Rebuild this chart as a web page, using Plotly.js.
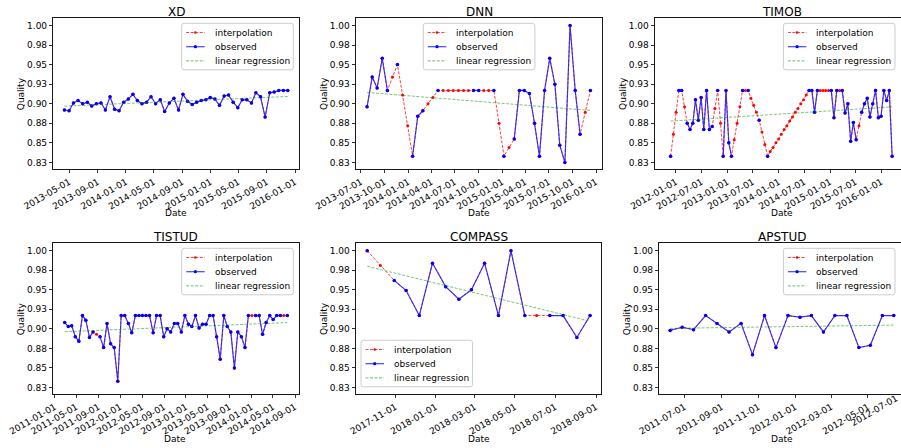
<!DOCTYPE html>
<html><head><meta charset="utf-8">
<script src="https://cdn.plot.ly/plotly-3.0.1.min.js"></script>
<style>html,body{margin:0;padding:0;background:#fff}#chart{width:901px;height:448px}</style>
</head><body><div id="chart"></div>
<script>
const yTickVals = [0.825,0.85,0.875,0.9,0.925,0.95,0.975,1.0];
const yTickText = ['0.83','0.85','0.88','0.90','0.93','0.95','0.98','1.00'];
const legendNames = ['interpolation','observed','linear regression'];

// ---- XD ----
const xdDates = ['2013-04-10','2013-04-30','2013-05-19','2013-06-08','2013-06-28','2013-07-18','2013-08-06','2013-08-26','2013-09-15','2013-10-04','2013-10-24','2013-11-13','2013-12-02','2013-12-22','2014-01-11','2014-01-31','2014-02-19','2014-03-11','2014-03-31','2014-04-19','2014-05-09','2014-05-29','2014-06-17','2014-07-07','2014-07-27','2014-08-16','2014-09-04','2014-09-24','2014-10-14','2014-11-02','2014-11-22','2014-12-12','2014-12-31','2015-01-20','2015-02-09','2015-03-01','2015-03-20','2015-04-09','2015-04-29','2015-05-18','2015-06-07','2015-06-27','2015-07-16','2015-08-05','2015-08-25','2015-09-14','2015-10-03','2015-10-23','2015-11-12','2015-12-01'];
const xdQuality = [0.892,0.891,0.901,0.904,0.900,0.902,0.897,0.900,0.901,0.892,0.909,0.893,0.891,0.902,0.906,0.912,0.904,0.900,0.902,0.909,0.900,0.905,0.890,0.901,0.907,0.892,0.912,0.903,0.899,0.902,0.904,0.905,0.908,0.906,0.898,0.910,0.911,0.902,0.895,0.905,0.905,0.901,0.914,0.909,0.883,0.914,0.915,0.917,0.917,0.917];
const xdInterpolatedIdx = [];
const xdTicks = ['2013-05-01','2013-09-01','2014-01-01','2014-05-01','2014-09-01','2015-01-01','2015-05-01','2015-09-01','2016-01-01'];

// ---- DNN ----
const dnnDates = ['2013-07-25','2013-08-14','2013-09-02','2013-09-22','2013-10-12','2013-11-01','2013-11-20','2013-12-10','2013-12-30','2014-01-18','2014-02-07','2014-02-27','2014-03-19','2014-04-07','2014-04-27','2014-05-17','2014-06-06','2014-06-25','2014-07-15','2014-08-04','2014-08-23','2014-09-12','2014-10-02','2014-10-22','2014-11-10','2014-11-30','2014-12-20','2015-01-08','2015-01-28','2015-02-17','2015-03-09','2015-03-28','2015-04-17','2015-05-07','2015-05-26','2015-06-15','2015-07-05','2015-07-25','2015-08-13','2015-09-02','2015-09-22','2015-10-12','2015-10-31','2015-11-20','2015-12-10'];
const dnnQuality = [0.896,0.934,0.920,0.958,0.917,0.934,0.950,0.911,0.872,0.833,0.884,0.891,0.900,0.908,0.917,0.917,0.917,0.917,0.917,0.917,0.917,0.917,0.917,0.917,0.917,0.917,0.875,0.833,0.844,0.855,0.917,0.917,0.913,0.875,0.833,0.917,0.958,0.925,0.847,0.825,1.000,0.917,0.861,0.889,0.917];
const dnnInterpolatedIdx = [5,7,8,12,13,15,16,17,18,19,20,23,24,26,28,43];
const dnnTicks = ['2013-07-01','2013-10-01','2014-01-01','2014-04-01','2014-07-01','2014-10-01','2015-01-01','2015-04-01','2015-07-01','2015-10-01','2016-01-01'];

// ---- TIMOB ----
const timobDates = ['2011-11-24','2011-12-14','2012-01-02','2012-01-22','2012-02-11','2012-03-02','2012-03-21','2012-04-10','2012-04-30','2012-05-19','2012-06-08','2012-06-28','2012-07-17','2012-08-06','2012-08-26','2012-09-15','2012-10-04','2012-10-24','2012-11-13','2012-12-02','2012-12-22','2013-01-11','2013-01-30','2013-02-19','2013-03-11','2013-03-31','2013-04-19','2013-05-09','2013-05-29','2013-06-17','2013-07-07','2013-07-27','2013-08-15','2013-09-04','2013-09-24','2013-10-14','2013-11-02','2013-11-22','2013-12-12','2013-12-31','2014-01-20','2014-02-09','2014-02-28','2014-03-20','2014-04-09','2014-04-29','2014-05-18','2014-06-07','2014-06-27','2014-07-16','2014-08-05','2014-08-25','2014-09-13','2014-10-03','2014-10-23','2014-11-12','2014-12-01','2014-12-21','2015-01-10','2015-01-29','2015-02-18','2015-03-10','2015-03-29','2015-04-18','2015-05-08','2015-05-28','2015-06-16','2015-07-06','2015-07-26','2015-08-14','2015-09-03','2015-09-23','2015-10-12','2015-11-01','2015-11-21','2015-12-11','2015-12-30','2016-01-19','2016-02-08','2016-02-27','2016-03-18'];
const timobQuality = [0.833,0.861,0.889,0.917,0.917,0.896,0.875,0.867,0.875,0.905,0.879,0.908,0.867,0.917,0.867,0.871,0.894,0.917,0.875,0.833,0.917,0.850,0.833,0.854,0.875,0.896,0.917,0.917,0.917,0.907,0.898,0.889,0.879,0.864,0.848,0.833,0.839,0.844,0.850,0.855,0.861,0.867,0.872,0.878,0.883,0.889,0.894,0.900,0.905,0.911,0.917,0.917,0.889,0.917,0.917,0.917,0.917,0.917,0.917,0.882,0.917,0.917,0.917,0.888,0.900,0.852,0.876,0.854,0.872,0.889,0.900,0.907,0.883,0.900,0.917,0.882,0.884,0.917,0.904,0.917,0.833];
const timobInterpolatedIdx = [1,2,5,16,18,23,24,25,27,29,30,31,33,34,36,37,38,39,40,41,42,43,44,45,46,47,48,49,54,55,56,57,61,68];
const timobTicks = ['2012-01-01','2012-07-01','2013-01-01','2013-07-01','2014-01-01','2014-07-01','2015-01-01','2015-07-01','2016-01-01'];

// ---- TISTUD ----
const tistudDates = ['2011-02-25','2011-03-17','2011-04-05','2011-04-25','2011-05-15','2011-06-04','2011-06-23','2011-07-13','2011-08-02','2011-08-21','2011-09-10','2011-09-30','2011-10-19','2011-11-08','2011-11-28','2011-12-18','2012-01-06','2012-01-26','2012-02-15','2012-03-05','2012-03-25','2012-04-14','2012-05-03','2012-05-23','2012-06-12','2012-07-02','2012-07-21','2012-08-10','2012-08-30','2012-09-18','2012-10-08','2012-10-28','2012-11-16','2012-12-06','2012-12-26','2013-01-15','2013-02-03','2013-02-23','2013-03-15','2013-04-03','2013-04-23','2013-05-13','2013-06-01','2013-06-21','2013-07-11','2013-07-31','2013-08-19','2013-09-08','2013-09-28','2013-10-17','2013-11-06','2013-11-26','2013-12-15','2014-01-04','2014-01-24','2014-02-13','2014-03-04','2014-03-24','2014-04-13','2014-05-02','2014-05-22','2014-06-11','2014-06-30','2014-07-20'];
const tistudQuality = [0.908,0.903,0.904,0.890,0.884,0.917,0.911,0.889,0.896,0.893,0.890,0.876,0.907,0.881,0.876,0.833,0.917,0.917,0.907,0.895,0.917,0.917,0.917,0.917,0.917,0.895,0.917,0.917,0.890,0.900,0.896,0.907,0.907,0.896,0.917,0.906,0.903,0.917,0.901,0.906,0.906,0.917,0.917,0.890,0.861,0.917,0.903,0.896,0.850,0.896,0.890,0.876,0.917,0.917,0.917,0.917,0.893,0.908,0.917,0.912,0.917,0.917,0.917,0.917];
const tistudInterpolatedIdx = [9,53,62];
const tistudTicks = ['2011-01-01','2011-05-01','2011-09-01','2012-01-01','2012-05-01','2012-09-01','2013-01-01','2013-05-01','2013-09-01','2014-01-01','2014-05-01','2014-09-01'];

// ---- COMPASS ----
const compassDates = ['2017-09-19','2017-10-09','2017-10-30','2017-11-17','2017-12-07','2017-12-27','2018-01-16','2018-02-05','2018-02-24','2018-03-16','2018-04-06','2018-04-25','2018-05-16','2018-06-03','2018-06-23','2018-07-13','2018-08-03','2018-08-23'];
const compassQuality = [1.000,0.981,0.962,0.949,0.917,0.984,0.954,0.938,0.950,0.984,0.917,1.000,0.917,0.917,0.917,0.917,0.889,0.917];
const compassInterpolatedIdx = [1,13];
const compassTicks = ['2017-11-01','2018-01-01','2018-03-01','2018-05-01','2018-07-01','2018-09-01'];

// ---- APSTUD ----
const apstudDates = ['2011-06-07','2011-06-27','2011-07-16','2011-08-05','2011-08-24','2011-09-13','2011-10-03','2011-10-22','2011-11-11','2011-11-30','2011-12-20','2012-01-09','2012-01-28','2012-02-17','2012-03-07','2012-03-27','2012-04-16','2012-05-05','2012-05-25','2012-06-13'];
const apstudQuality = [0.898,0.902,0.899,0.917,0.907,0.896,0.907,0.867,0.917,0.876,0.917,0.915,0.917,0.896,0.917,0.917,0.876,0.879,0.917,0.917];
const apstudInterpolatedIdx = [];
const apstudTicks = ['2011-07-01','2011-09-01','2011-11-01','2012-01-01','2012-03-01','2012-05-01','2012-07-01'];

const W = 901, H = 448;
const px = x => x / W, py = y => 1 - y / H;
const FONT = 'DejaVu Sans';
const RED = 'rgba(255,0,0,0.75)', BLUE = 'rgba(20,20,255,0.8)', GREEN = 'rgba(0,150,0,0.6)';
const DASH = '3px,1.5px';

const panels = [
  {name:'XD', dates:xdDates, q:xdQuality, interp:xdInterpolatedIdx, ticks:xdTicks, range:['2013-02-21','2016-01-17'], xd:[53.3,298.7], yd:[18,169], cx:176, leg:[181.7,23.3]},
  {name:'DNN', dates:dnnDates, q:dnnQuality, interp:dnnInterpolatedIdx, ticks:dnnTicks, range:['2013-06-12','2016-01-23'], xd:[356,601.7], yd:[18,169], cx:479, leg:[423.3,23.3]},
  {name:'TIMOB', dates:timobDates, q:timobQuality, interp:timobInterpolatedIdx, ticks:timobTicks, range:['2011-08-05','2016-05-20'], xd:[655,901], yd:[18,169], cx:781.8, leg:[783.4,23.3]},
  {name:'TISTUD', dates:tistudDates, q:tistudQuality, interp:tistudInterpolatedIdx, ticks:tistudTicks, range:['2010-12-23','2014-09-22'], xd:[53.2,298.8], yd:[243.3,394], cx:175, leg:[181.7,248.3]},
  {name:'COMPASS', dates:compassDates, q:compassQuality, interp:compassInterpolatedIdx, ticks:compassTicks, range:['2017-09-02','2018-09-09'], xd:[356,601.3], yd:[243.3,394], cx:479, leg:[361,340.3]},
  {name:'APSTUD', dates:apstudDates, q:apstudQuality, interp:apstudInterpolatedIdx, ticks:apstudTicks.slice(0,-1), range:['2011-05-20','2012-06-25'], xd:[659.3,901], yd:[243.3,394], cx:782, leg:[783.4,248.3]}
];

function linreg(dates, vals) {
  const xs = dates.map(d => new Date(d + 'T00:00:00Z').getTime());
  const n = xs.length;
  const mx = xs.reduce((a,b)=>a+b,0)/n, my = vals.reduce((a,b)=>a+b,0)/n;
  let sxy = 0, sxx = 0;
  for (let i=0;i<n;i++){ sxy += (xs[i]-mx)*(vals[i]-my); sxx += (xs[i]-mx)*(xs[i]-mx); }
  const b = sxy/sxx, a = my - b*mx;
  return [a + b*xs[0], a + b*xs[n-1]];
}

const traces = [];
const shapes = [];
const annotations = [];
const layout = {
  width: W, height: H, margin:{l:0,r:0,t:0,b:0},
  paper_bgcolor:'#fff', plot_bgcolor:'#fff',
  font:{family:FONT, size:9, color:'#000'},
  showlegend:false, shapes, annotations
};

function roundRect(L, T, w, h, r) {
  const X = v => px(v).toFixed(5), Y = v => py(v).toFixed(5);
  const R = L + w, B = T + h;
  return `M${X(L+r)},${Y(T)} L${X(R-r)},${Y(T)} Q${X(R)},${Y(T)} ${X(R)},${Y(T+r)} L${X(R)},${Y(B-r)} Q${X(R)},${Y(B)} ${X(R-r)},${Y(B)} L${X(L+r)},${Y(B)} Q${X(L)},${Y(B)} ${X(L)},${Y(B-r)} L${X(L)},${Y(T+r)} Q${X(L)},${Y(T)} ${X(L+r)},${Y(T)} Z`;
}

function addLegend(L, T) {
  const w = 111.6, h = 46.5;
  shapes.push({type:'path', xref:'paper', yref:'paper', path:roundRect(L, T, w, h, 2.5),
    fillcolor:'rgba(255,255,255,0.8)', line:{color:'#cccccc', width:1}, layer:'above'});
  const rows = [
    {color:RED, dash:DASH, mk:'red', r:1.3},
    {color:BLUE, dash:'solid', mk:'blue', r:1.6},
    {color:GREEN, dash:DASH, mk:null}
  ];
  rows.forEach((row, j) => {
    const cy = T + 9.2 + j * 14.2;
    shapes.push({type:'line', xref:'paper', yref:'paper', x0:px(L+4.5), x1:px(L+23), y0:py(cy), y1:py(cy),
      line:{color:row.color, width: j===1 ? 1.2 : 1, dash:row.dash}, layer:'above'});
    if (row.mk) {
      shapes.push({type:'circle', xref:'paper', yref:'paper', x0:px(L+13.7-row.r), x1:px(L+13.7+row.r),
        y0:py(cy+row.r), y1:py(cy-row.r), fillcolor:row.mk, line:{width:0}, layer:'above'});
    }
    annotations.push({text:legendNames[j], xref:'paper', yref:'paper', x:px(L+31), y:py(cy), xanchor:'left', yanchor:'middle',
      showarrow:false, font:{family:FONT, size:9, color:'#000'}});
  });
}

panels.forEach((p, k) => {
  const s = k === 0 ? '' : String(k+1);
  const xa = 'x'+s, ya = 'y'+s;
  const obs = p.q.map((v,i) => p.interp.includes(i) ? null : v);
  traces.push({type:'scatter', mode:'lines+markers', name:legendNames[0], x:p.dates, y:p.q, xaxis:xa, yaxis:ya,
    line:{color:RED, width:1, dash:DASH}, marker:{color:'red', size:3}, hoverinfo:'skip'});
  traces.push({type:'scatter', mode:'lines+markers', name:legendNames[1], x:p.dates, y:obs, xaxis:xa, yaxis:ya, connectgaps:false,
    line:{color:BLUE, width:1.2}, marker:{color:'blue', size:3.5}, hoverinfo:'skip'});
  const r = linreg(p.dates, p.q);
  traces.push({type:'scatter', mode:'lines', name:legendNames[2], x:[p.dates[0], p.dates[p.dates.length-1]], y:r, xaxis:xa, yaxis:ya,
    line:{color:GREEN, width:0.9, dash:DASH}, hoverinfo:'skip'});

  layout['xaxis'+s] = {domain:[px(p.xd[0]), px(p.xd[1])], anchor:ya, type:'date', range:p.range,
    tickvals:p.ticks, ticktext:p.ticks, tickangle:-30, ticks:'outside', ticklen:3.5, tickwidth:0.8, tickcolor:'#000',
    showline:true, mirror:true, linecolor:'#000', linewidth:0.9, showgrid:false, zeroline:false,
    tickfont:{family:FONT, size:9, color:'#000'}};
  layout['yaxis'+s] = {domain:[py(p.yd[1]), py(p.yd[0])], anchor:xa, range:[0.8166,1.0095],
    tickvals:yTickVals, ticktext:yTickText, ticks:'outside', ticklen:3.5, tickwidth:0.8, tickcolor:'#000',
    showline:true, mirror:true, linecolor:'#000', linewidth:0.9, showgrid:false, zeroline:false,
    tickfont:{family:FONT, size:9, color:'#000'}};

  addLegend(p.leg[0], p.leg[1]);

  const top = p.yd[0];
  annotations.push({text:p.name, xref:'paper', yref:'paper', x:px(p.cx), y:py(top - 6.5), xanchor:'center', yanchor:'middle', showarrow:false, font:{family:FONT, size:12, color:'#000'}});
  annotations.push({text:'Date', xref:'paper', yref:'paper', x:px(p.cx), y:py(top === 18 ? 213.3 : 439.3), xanchor:'center', yanchor:'middle', showarrow:false, font:{family:FONT, size:9, color:'#000'}});
  annotations.push({text:'Quality', xref:'paper', yref:'paper', x:px(p.xd[0] - 32.6), y:py((p.yd[0]+p.yd[1])/2), xanchor:'center', yanchor:'middle', textangle:-90, showarrow:false, font:{family:FONT, size:9, color:'#000'}});
});

// last APSTUD tick (2012-07-01) falls on the figure's right edge: its label is kept fully inside the picture
annotations.push({text:apstudTicks[apstudTicks.length-1], xref:'paper', yref:'paper', x:px(873.5), y:py(410.5), xanchor:'center', yanchor:'middle', textangle:-30, showarrow:false, font:{family:FONT, size:9, color:'#000'}});

Plotly.newPlot('chart', traces, layout, {staticPlot:true, displayModeBar:false});
</script>
</body></html>
